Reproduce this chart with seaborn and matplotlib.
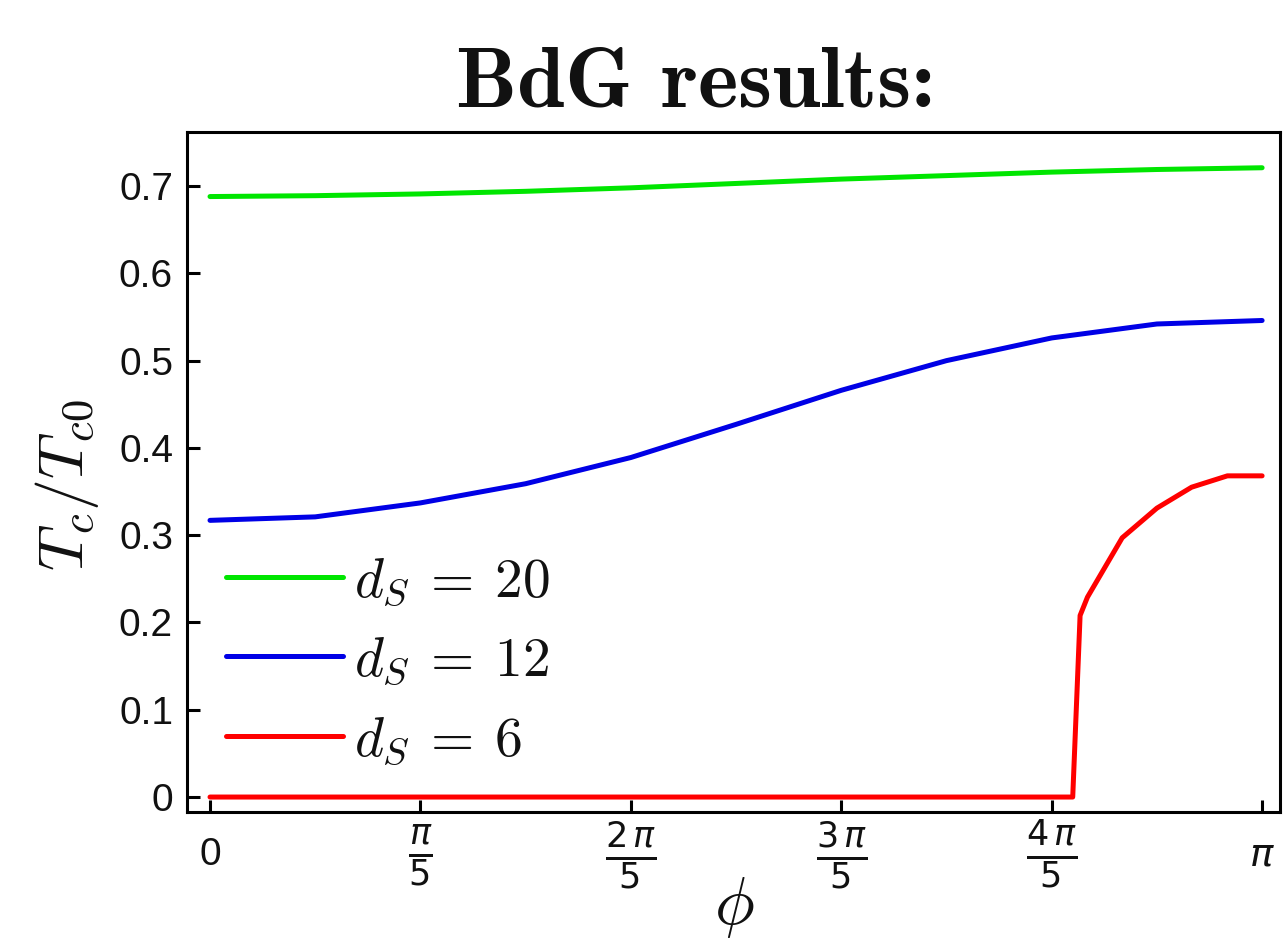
import numpy as np
import pandas as pd
import matplotlib
matplotlib.use("Agg")
import matplotlib.pyplot as plt
import seaborn as sns

# phi in units of pi
phi_20 = [0.0, 0.1, 0.2, 0.3, 0.4, 0.5, 0.6, 0.7, 0.8, 0.9, 1.0]
tc_20 = [0.688, 0.689, 0.691, 0.694, 0.698, 0.703, 0.708, 0.712, 0.716, 0.719, 0.721]

phi_12 = [0.0, 0.1, 0.2, 0.3, 0.4, 0.5, 0.6, 0.7, 0.8, 0.9, 1.0]
tc_12 = [0.317, 0.321, 0.337, 0.359, 0.389, 0.427, 0.466, 0.500, 0.526, 0.542, 0.546]

phi_6 = [0.0, 0.1, 0.2, 0.3, 0.4, 0.5, 0.6, 0.7, 0.8, 0.820, 0.827, 0.834, 0.867, 0.900, 0.933, 0.967, 1.0]
tc_6 = [0.0, 0.0, 0.0, 0.0, 0.0, 0.0, 0.0, 0.0, 0.0, 0.0, 0.208, 0.229, 0.297, 0.331, 0.355, 0.368, 0.368]

labels = [r"$d_S\:=\:20$", r"$d_S\:=\:12$", r"$d_S\:=\:6$"]
colors = ["#00e600", "#0000e6", "#ff0000"]

tick_pos = [0, 1, 2, 3, 4, 5]
tick_labels = ["0", r"$\frac{\pi}{5}$", r"$\frac{2\,\pi}{5}$", r"$\frac{3\,\pi}{5}$",
               r"$\frac{4\,\pi}{5}$", r"$\pi$"]
y_ticks = [0, 0.1, 0.2, 0.3, 0.4, 0.5, 0.6, 0.7]
y_tick_labels = ["0", "0.1", "0.2", "0.3", "0.4", "0.5", "0.6", "0.7"]

sns.set_style("ticks")
plt.rcParams["font.family"] = ["Liberation Sans", "DejaVu Sans"]
plt.rcParams["mathtext.fontset"] = "cm"
plt.rcParams["text.color"] = "#111111"

fig = plt.figure(figsize=(12.85, 9.46), dpi=100)
ax = fig.add_axes([0.1455, 0.1416, 0.8506, 0.7189])

for phis, tcs, lab, col in zip([phi_20, phi_12, phi_6], [tc_20, tc_12, tc_6], labels, colors):
    sns.lineplot(x=np.array(phis) * np.pi, y=tcs, color=col, lw=3.6, label=lab, ax=ax)

ax.set_xlim(-0.0219 * np.pi, 1.017 * np.pi)
ax.set_ylim(-0.0172, 0.762)

ax.set_xticks([k * np.pi / 5 for k in tick_pos])
ax.set_xticklabels(tick_labels)
ax.set_yticks(y_ticks)
ax.set_yticklabels(y_tick_labels)

for spine in ax.spines.values():
    spine.set_visible(True)
    spine.set_linewidth(2.2)
    spine.set_color("black")

ax.tick_params(axis="both", direction="in", length=9, width=2.2, colors="black",
               labelcolor="#111111")
ax.tick_params(axis="y", labelsize=28, pad=10)
ax.tick_params(axis="x", labelsize=28, pad=31)
for i, t in enumerate(ax.get_xticklabels()):
    t.set_va("center")
    t.set_math_fontfamily("dejavusans")
    if i in (1, 2, 3, 4):
        t.set_fontsize(36)

ax.set_xlabel("")
ax.set_ylabel("")

fig.text(0.5416, 0.887, "BdG results:", fontfamily="cmb10", fontsize=62, ha="center", va="baseline")
fig.text(0.052, 0.487, r"$T_c/T_{c0}$", fontsize=46, rotation=90, ha="center", va="center")
fig.text(0.571, 0.006, r"$\phi$", fontsize=48, ha="center", va="bottom")

leg = ax.legend(loc="lower left", bbox_to_anchor=(0.0, 0.008), frameon=False, fontsize=40,
                handlelength=2.1, handletextpad=0.2, labelspacing=0.5, borderaxespad=0.3)

fig.savefig("out.png", dpi=100)
